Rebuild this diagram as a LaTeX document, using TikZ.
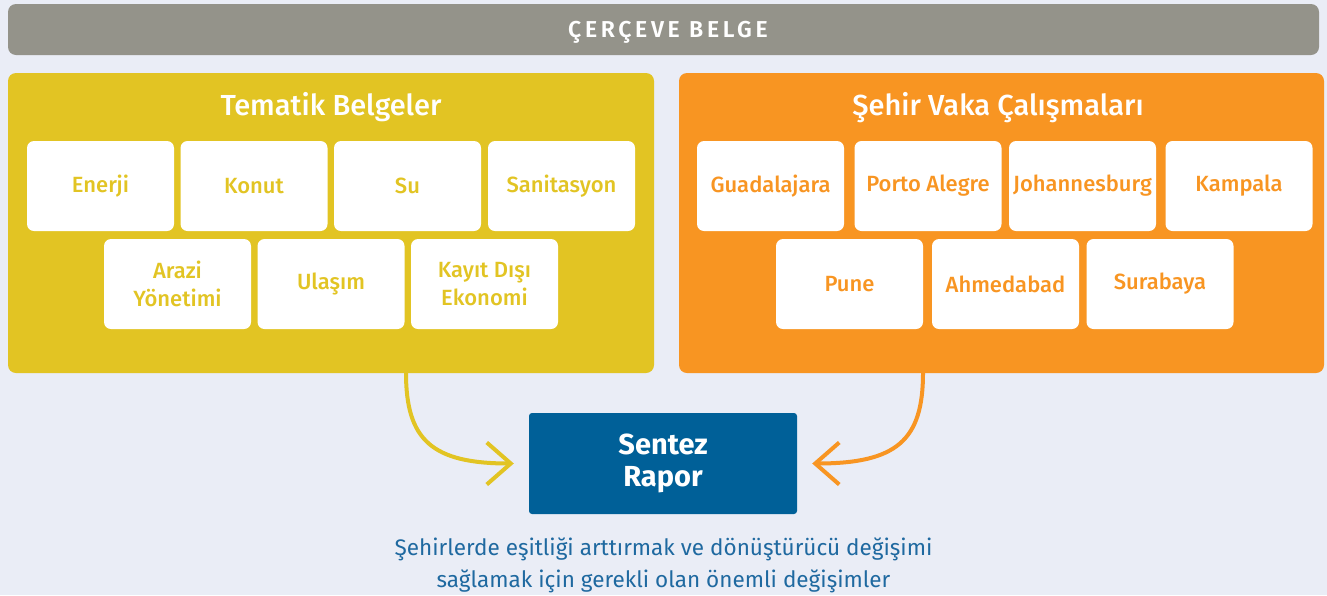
\documentclass[tikz,border=0pt]{standalone}
\usepackage{fontspec}
\setmainfont{Fira Sans}
\newfontfamily\medf{Fira Sans Medium}
\newfontfamily\spacedf[LetterSpace=16]{Fira Sans SemiBold}
\usetikzlibrary{arrows.meta}
\definecolor{bg}{HTML}{EAEDF6}
\definecolor{gry}{HTML}{94938A}
\definecolor{ylw}{HTML}{E2C423}
\definecolor{org}{HTML}{F89522}
\definecolor{blu}{HTML}{006098}
\definecolor{txtblu}{HTML}{1F69A0}
\begin{document}
\begin{tikzpicture}[x=1pt,y=-1pt,
  panel/.style={rectangle,rounded corners=8pt,inner sep=0pt},
  tbox/.style={rectangle,fill=white,rounded corners=7pt,minimum width=147pt,minimum height=90pt,inner sep=0pt,align=center,font=\medf\fontsize{22}{28}\selectfont},
  ptitle/.style={text=white,font=\medf\fontsize{29}{34}\selectfont,inner sep=0pt},
  arr/.style={line width=4pt,-{Straight Barb[length=24pt,width=42pt,line width=4pt]}}
]
\useasboundingbox (0,0) rectangle (1327,595);
\fill[bg] (0,0) rectangle (1327,595);
% top bar
\node[panel,fill=gry,minimum width=1311pt,minimum height=51pt] (bar) at (663.5,29.5) {};
\node[text=white,font=\spacedf\fontsize{23}{24}\selectfont,inner sep=0pt,anchor=base] (bart) at (668,37) {ÇERÇEVE BELGE};
% panels
\node[panel,fill=ylw,minimum width=646pt,minimum height=300pt] (tem) at (331,223) {};
\node[panel,fill=org,minimum width=645pt,minimum height=300pt] (seh) at (1001.5,223) {};
\node[ptitle] (temt) at (331,107.5) {Tematik Belgeler};
\node[ptitle] (seht) at (998,107.5) {Şehir Vaka Çalışmaları};
% left boxes
\begin{scope}[every node/.append style={text=ylw}]
\node[tbox] (b1) at (100.5,186) {Enerji};
\node[tbox] (b2) at (254,186) {Konut};
\node[tbox] (b3) at (407.5,186) {Su};
\node[tbox] (b4) at (561.5,186) {Sanitasyon};
\node[tbox] (b5) at (177.5,284) {Arazi\\Yönetimi};
\node[tbox] (b6) at (331,284) {Ulaşım};
\node[tbox] (b7) at (484.5,284) {Kayıt Dışı\\Ekonomi};
\end{scope}
% right boxes
\begin{scope}[every node/.append style={text=org}]
\node[tbox] (c1) at (770.5,186) {Guadalajara};
\node[tbox] (c2) at (928,186) {Porto Alegre};
\node[tbox] (c3) at (1082.5,186) {Johannesburg};
\node[tbox] (c4) at (1239,186) {Kampala};
\node[tbox] (c5) at (849.5,284) {Pune};
\node[tbox] (c6) at (1005.5,284) {Ahmedabad};
\node[tbox] (c7) at (1160,284) {Surabaya};
\end{scope}
% synthesis
\node[rectangle,rounded corners=3pt,fill=blu,minimum width=268pt,minimum height=101pt,inner sep=0pt,text=white,align=center,font=\bfseries\fontsize{29}{32}\selectfont] (sr) at (663,463.5) {Sentez\\Rapor};
\node[text=txtblu,align=center,font=\fontsize{22.5}{32}\selectfont,inner sep=0pt] (note) at (663.5,565) {Şehirlerde eşitliği arttırmak ve dönüştürücü değişimi\\sağlamak için gerekli olan önemli değişimler};
% arrows
\coordinate (a1) at (406,373);
\coordinate (a2) at (923,373);
\draw[arr,ylw] (a1) .. controls (406,440) and (432,463.5) .. ([xshift=-15pt]sr.west);
\draw[arr,org] (a2) .. controls (923,440) and (897,463.5) .. ([xshift=15pt]sr.east);
\end{tikzpicture}
\end{document}
